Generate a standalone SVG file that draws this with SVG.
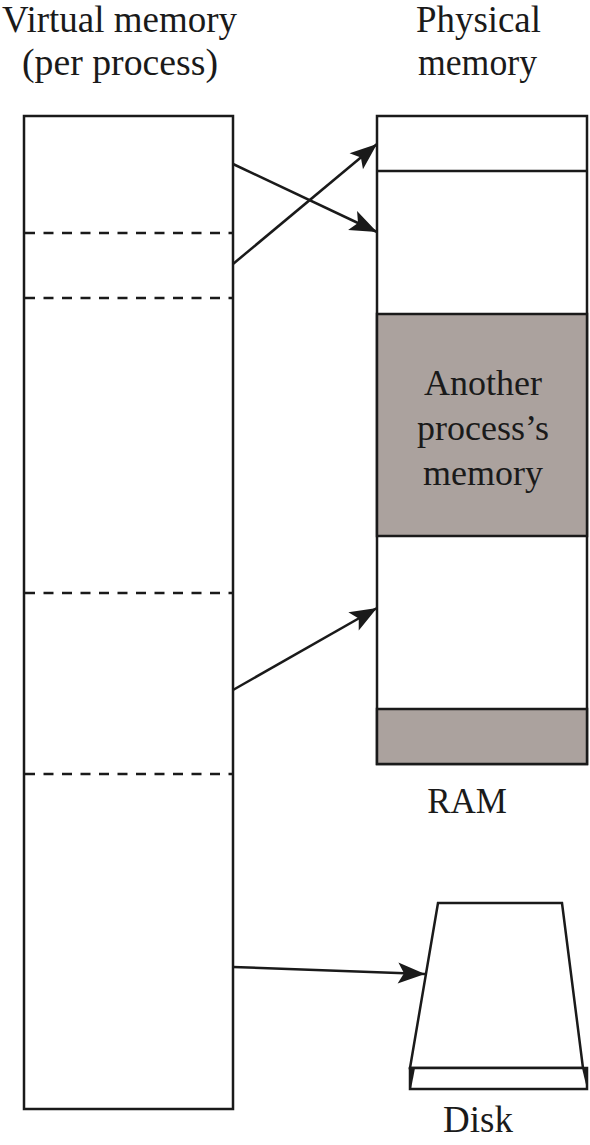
<svg xmlns="http://www.w3.org/2000/svg" width="590" height="1145" viewBox="0 0 590 1145">
<style>
.t{font-family:"Liberation Serif","Times New Roman",serif;fill:#1a1a1a;text-anchor:middle}
.box{fill:#fff;stroke:#1a1a1a;stroke-width:2.5}
.gray{fill:#aba29e;stroke:#1a1a1a;stroke-width:2.5}
.dash{stroke:#1a1a1a;stroke-width:2.5;stroke-dasharray:10 8.5}
.conn{stroke:#1a1a1a;stroke-width:2.5;fill:none;marker-end:url(#ah)}
</style>
<defs>
<marker id="ah" markerUnits="userSpaceOnUse" markerWidth="30" markerHeight="24" viewBox="-28 -12 30 24" refX="0" refY="0" orient="auto">
<path d="M0,0 L-27,-10.5 L-21,0 L-27,10.5 Z" fill="#1a1a1a"/>
</marker>
</defs>
<rect width="590" height="1145" fill="#fff"/>
<g id="virtual-memory">
<text class="t" x="119.5" y="32" font-size="38" textLength="235" lengthAdjust="spacingAndGlyphs">Virtual memory</text>
<text class="t" x="120" y="75" font-size="38" textLength="196" lengthAdjust="spacingAndGlyphs">(per process)</text>
<rect class="box" x="24" y="116" width="209" height="993"/>
<line class="dash" x1="25" y1="233" x2="232" y2="233"/>
<line class="dash" x1="25" y1="298" x2="232" y2="298"/>
<line class="dash" x1="25" y1="593" x2="232" y2="593"/>
<line class="dash" x1="25" y1="774" x2="232" y2="774"/>
</g>
<g id="physical-memory">
<text class="t" x="478.5" y="32" font-size="38" textLength="125" lengthAdjust="spacingAndGlyphs">Physical</text>
<text class="t" x="477.5" y="75" font-size="38" textLength="119" lengthAdjust="spacingAndGlyphs">memory</text>
<rect class="box" x="377" y="116" width="210" height="648"/>
<line x1="377" y1="171" x2="587" y2="171" stroke="#1a1a1a" stroke-width="2.5"/>
<rect class="gray" x="377" y="314" width="210" height="222"/>
<rect class="gray" x="377" y="709" width="210" height="55"/>
<text class="t" x="483" y="395" font-size="36">Another</text>
<text class="t" x="483" y="440" font-size="36">process’s</text>
<text class="t" x="483" y="485" font-size="36">memory</text>
<text class="t" x="467" y="813" font-size="35">RAM</text>
</g>
<g id="disk">
<polygon points="438,903 562,903 583,1068 410,1068" fill="#fff" stroke="#1a1a1a" stroke-width="2.5" stroke-linejoin="miter"/>
<rect x="410" y="1068" width="177" height="21" fill="#fff" stroke="#1a1a1a" stroke-width="2.5"/>
<polygon points="410,1068 415,1068 411,1089" fill="#1a1a1a"/>
<polygon points="582,1068 587,1068 587,1089" fill="#1a1a1a"/>
<text class="t" x="478" y="1132" font-size="37">Disk</text>
</g>
<g id="connectors">
<line class="conn" x1="233" y1="164" x2="377" y2="232"/>
<line class="conn" x1="233" y1="264" x2="377" y2="144"/>
<line class="conn" x1="233" y1="690" x2="377" y2="608"/>
<line class="conn" x1="233" y1="967" x2="425" y2="974"/>
</g>
</svg>
